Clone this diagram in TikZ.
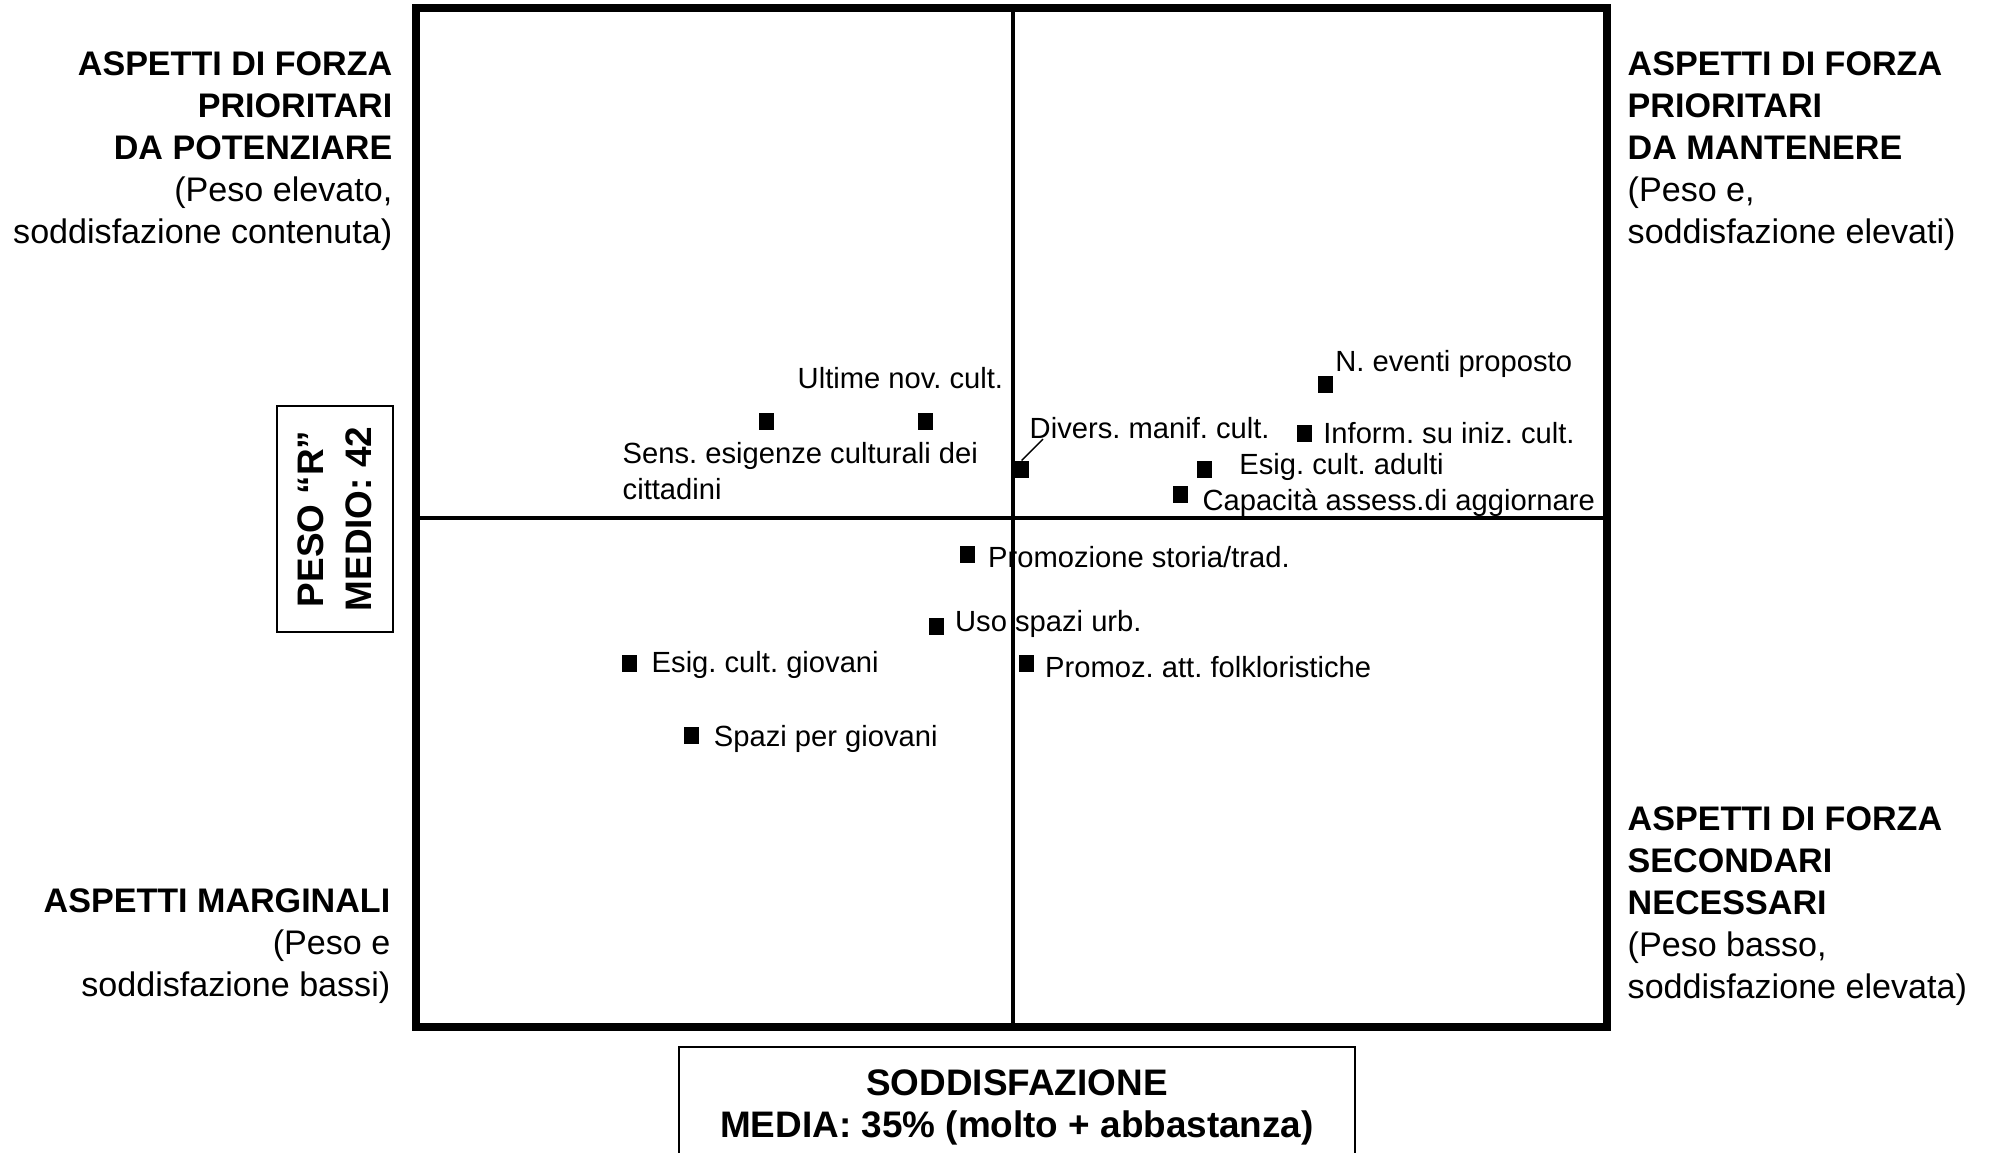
\documentclass[tikz,border=0pt]{standalone}
\usepackage{fontspec}
\setmainfont{Liberation Sans}
\usepackage{tikz}
\usetikzlibrary{positioning}
\definecolor{inkBlack}{gray}{0}
\frenchspacing

\tikzset{
  sq/.style={fill=inkBlack, inner sep=0pt, minimum width=0.15cm, minimum height=0.17cm},
  lab/.style={font=\fontsize{8.3}{10.1}\selectfont, inner sep=0pt, anchor=west, align=left},
  quad/.style={font=\fontsize{9.7}{11.9}\selectfont, inner sep=0pt},
  axbox/.style={draw=inkBlack, line width=0.6pt, align=center, inner sep=0pt}
}

\begin{document}
\begin{tikzpicture}
    \useasboundingbox (0,0) rectangle (19.9,11.52);
    \coordinate (SW) at (4.16,1.25);
    \coordinate (NE) at (16.07,11.44);
    \coordinate (C) at (10.13,6.34);

    % Frame and axes
    \draw[line width=2.3pt, inkBlack] (SW) rectangle (NE);
    \draw[line width=0.9pt, inkBlack] (C |- SW) -- (C |- NE);
    \draw[line width=0.9pt, inkBlack] (C -| SW) -- (C -| NE);

    % Quadrants
    \node[quad, anchor=east, align=right] (tl) at (3.93,10.01) {\textbf{ASPETTI DI FORZA}\\\textbf{PRIORITARI}\\\textbf{DA POTENZIARE}\\(Peso elevato,\\soddisfazione contenuta)};
    \node[quad, anchor=west, align=left] (tr) at (16.27,10.01) {\textbf{ASPETTI DI FORZA}\\\textbf{PRIORITARI}\\\textbf{DA MANTENERE}\\(Peso e,\\soddisfazione elevati)};
    \node[quad, anchor=east, align=right] (bl) at (3.91,2.06) {\textbf{ASPETTI MARGINALI}\\(Peso e\\soddisfazione bassi)};
    \node[quad, anchor=west, align=left] (br) at (16.27,2.46) {\textbf{ASPETTI DI FORZA}\\\textbf{SECONDARI}\\\textbf{NECESSARI}\\(Peso basso,\\soddisfazione elevata)};

    % Axis boxes
    \node[axbox, rotate=90, minimum width=2.26cm, minimum height=1.16cm, font=\bfseries\fontsize{10.5}{13.7}\selectfont] (peso) at (3.35,6.33) {PESO “R”\\MEDIO: 42};
    \node[axbox, anchor=north, minimum width=6.76cm, minimum height=1.2cm, font=\bfseries\fontsize{10.5}{11.9}\selectfont] (sodd) at (10.17,1.06) {SODDISFAZIONE\\MEDIA: 35\% (molto + abbastanza)};

    % Points
    \node[sq] (sens) at (7.665,7.307) {};
    \node[sq] (ultime) at (9.252,7.307) {};
    \node[sq] (divers) at (10.216,6.824) {};
    \node[sq] (eventi) at (13.25,7.675) {};
    \node[sq] (inform) at (13.046,7.18) {};
    \node[sq] (adulti) at (12.044,6.824) {};
    \node[sq] (capac) at (11.803,6.57) {};
    \node[sq] (storia) at (9.67,5.974) {};
    \node[sq] (spazi) at (9.366,5.25) {};
    \node[sq] (giovani) at (6.295,4.883) {};
    \node[sq] (folk) at (10.267,4.883) {};
    \node[sq] (spgiov) at (6.917,4.16) {};

    \node[lab] (sensL) at (6.22,6.81) {Sens. esigenze culturali dei\\cittadini};
    \node[lab] (ultimeL) at (7.97,7.74) {Ultime nov. cult.};
    \node[lab] (diversL) at (10.29,7.243) {Divers. manif. cult.};
    \node[lab] (eventiL) at (13.346,7.878) {N. eventi proposto};
    \node[lab] (informL) at (13.226,7.192) {Inform. su iniz. cult.};
    \node[lab] (adultiL) at (12.386,6.85) {Esig. cult. adulti};
    \node[lab] (capacL) at (12.018,6.494) {Capacità assess.di aggiornare};
    \node[lab] (storiaL) at (9.874,5.95) {Promozione storia/trad.};
    \node[lab] (spaziL) at (9.544,5.276) {Uso spazi urb.};
    \node[lab] (giovaniL) at (6.51,4.87) {Esig. cult. giovani};
    \node[lab] (folkL) at (10.445,4.845) {Promoz. att. folkloristiche};
    \node[lab] (spgiovL) at (7.132,4.134) {Spazi per giovani};

    \draw[line width=0.4pt, inkBlack] (divers.north) -- ([xshift=1.4mm]diversL.south west);
\end{tikzpicture}
\end{document}
